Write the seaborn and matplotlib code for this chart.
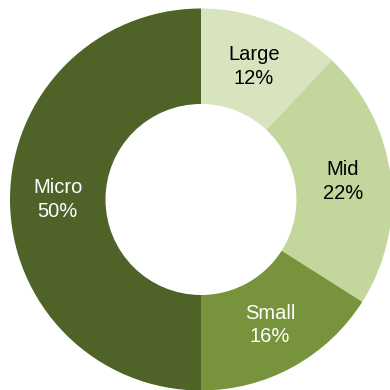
import matplotlib
matplotlib.use("Agg")
import matplotlib.pyplot as plt
import seaborn as sns

# Share of holdings by company size
categories = ["Large", "Mid", "Small", "Micro"]
shares = [12, 22, 16, 50]
colors = ["#d7e4bd", "#c3d69b", "#77933c", "#4f6228"]
text_colors = ["black", "black", "white", "white"]

sns.set_style("white")
plt.rcParams["font.family"] = ["Liberation Sans", "DejaVu Sans"]

fig = plt.figure(figsize=(3.9, 3.9), dpi=100)
R = 191 / 390
cx, cy = 201 / 390, 190.5 / 390
ax = fig.add_axes([cx - R, cy - R, 2 * R, 2 * R])

wedges, texts = ax.pie(
    shares,
    labels=[f"{c}\n{v}%" for c, v in zip(categories, shares)],
    colors=colors,
    startangle=90,
    counterclock=False,
    radius=1.0,
    labeldistance=0.75,
    wedgeprops=dict(width=0.5, linewidth=0),
    textprops=dict(fontsize=14.5, ha="center", va="center", linespacing=1.3),
)
for t, c in zip(texts, text_colors):
    t.set_color(c)
    t.set_horizontalalignment("center")

ax.set_xlim(-1, 1)
ax.set_ylim(-1, 1)
ax.set_aspect("equal")
ax.axis("off")

fig.savefig("out.png", dpi=100)
